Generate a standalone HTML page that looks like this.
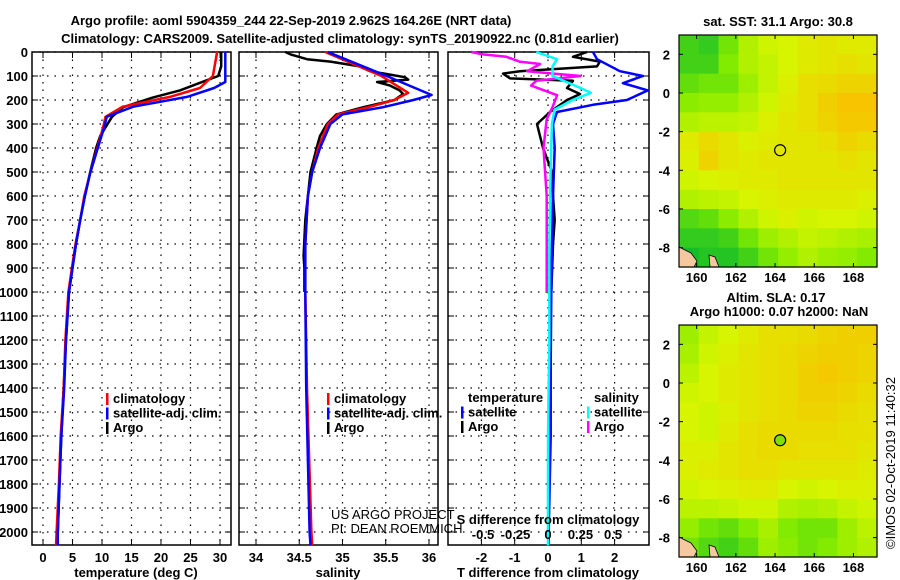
<!DOCTYPE html>
<html><head><meta charset="utf-8">
<style>
body{margin:0;background:#fff;}
svg{display:block;font-family:"Liberation Sans",Arial,sans-serif;}
.b{font-weight:bold;font-size:13px;}
.n{font-weight:normal;font-size:13px;}
</style></head>
<body>
<svg id="c" width="900" height="580" viewBox="0 0 900 580"></svg>
<script>
// ---- data ----
const depthTicks=[0,100,200,300,400,500,600,700,800,900,1000,1100,1200,1300,1400,1500,1600,1700,1800,1900,2000];
const tempTicks=[0,5,10,15,20,25,30];
const salTicks=[34,34.5,35,35.5,36];
const tdTicks=[-2,-1,0,1,2];
const sdTicks=[-0.5,-0.25,0,0.25,0.5];
const sdTickLabels=["-0.5","-0.25","0","0.25","0.5"];
const latTicks=[2,0,-2,-4,-6,-8];
const lonTicks=[160,162,164,166,168];

const tBlueD=[0,125,150,187,228,270,312,367,504,600,700,800,900,1000,1200,1400,1600,1800,2000,2055];
const tBlueV=[30.9,30.9,29.0,24.4,15.3,10.8,10.4,9.7,8.0,7.1,6.3,5.6,5.0,4.4,3.9,3.6,3.1,2.8,2.5,2.5];
const tRedD=[0,100,150,187,228,270,312,367,504,600,700,800,900,1000,1200,1400,1600,1800,2000,2055];
const tRedV=[29.5,28.8,26.6,21.5,13.5,10.6,10.2,9.6,8.0,7.0,6.3,5.5,4.9,4.3,3.8,3.5,3.0,2.7,2.3,2.2];
const tArgoD=[0,60,100,120,160,190,230,270,350,400,500,600,700,800,900,1000,1200,1400,1600,1800,2000];
const tArgoV=[30.2,30.2,29.7,27.5,23.2,18.6,13.6,11.7,9.7,9.0,8.0,7.1,6.3,5.6,5.0,4.4,3.9,3.5,3.1,2.8,2.5];

const sBlueD=[0,100,179,200,230,260,300,400,500,600,800,1000,1400,2000,2055];
const sBlueV=[34.83,35.51,36.03,35.82,35.47,35.0,34.86,34.74,34.65,34.6,34.57,34.57,34.58,34.62,34.63];
const sRedD=[0,100,170,200,230,260,300,400,500,600,800,1000,1400,2000,2055];
const sRedV=[34.8,35.45,35.76,35.6,35.3,34.95,34.83,34.72,34.65,34.6,34.57,34.57,34.59,34.64,34.65];
const sArgoD=[0,10,30,40,60,80,105,115,125,140,160,175,200,230,260,300,350,400,500,700,850,900,1000];
const sArgoV=[34.34,34.4,34.59,34.86,35.2,35.32,35.72,35.76,35.4,35.55,35.66,35.7,35.6,35.24,34.93,34.82,34.74,34.7,34.63,34.57,34.55,34.56,34.56];

const dtSatD=[0,30,80,100,130,160,200,220,250,300,400,600,800,1000,1300,1600,1800,2000,2055];
const dtSatV=[1.35,1.47,2.16,2.85,2.25,3.0,2.37,1.35,0.27,0.15,0.2,0.15,0.12,0.1,0.08,0.08,0.05,0.02,0.02];
const dtArgoD=[0,20,40,60,80,90,110,120,150,175,200,250,300,350,400,500,600,700,800,1000];
const dtArgoV=[1.17,0.75,1.56,1.47,-0.84,-1.35,-1.14,0.75,0.57,0.96,0.57,0.06,-0.33,-0.24,-0.15,0.12,0.15,0.2,0.15,0.1];
const dsSatD=[0,30,60,100,150,170,200,240,300,500,800,1200,1600,2000,2055];
const dsSatV=[-0.09,0.07,0.035,0.035,0.25,0.33,0.19,0.05,0.03,0.02,0.01,0.01,0.0,0.0,0.0];
const dsArgoD=[0,10,20,40,50,80,100,120,140,180,230,280,400,600,800,1000];
const dsArgoV=[-0.59,-0.5,-0.32,-0.22,-0.06,-0.16,0.25,-0.09,-0.13,0.07,0.035,-0.01,-0.035,-0.01,-0.01,-0.01];

const sstGrid=[
[0.3,0.2,0.6,1.2,1.5,1.6,1.8,1.9,1.8,1.8],
[0.3,0.3,0.7,1.2,1.4,1.6,1.8,1.9,2.0,1.9],
[0.5,0.6,0.6,1.0,1.4,1.7,2.0,2.1,2.2,2.2],
[0.8,0.9,0.9,1.2,1.5,1.8,2.0,2.3,2.5,2.5],
[1.2,1.3,1.3,1.4,1.7,1.9,2.0,2.2,2.4,2.4],
[1.8,2.1,1.9,1.7,1.8,1.9,1.9,2.0,2.2,2.1],
[1.7,2.2,1.9,1.8,1.9,1.9,1.9,1.9,2.0,1.9],
[1.5,1.6,1.7,1.8,1.8,1.9,1.9,1.9,1.9,1.9],
[1.2,1.3,1.4,1.6,1.7,1.8,1.8,1.8,1.8,1.7],
[0.4,0.5,0.8,1.2,1.5,1.7,1.5,1.6,1.6,1.5],
[0.2,0.2,0.3,0.6,1.0,1.2,1.4,1.3,1.2,1.1],
[0.0,0.1,0.1,0.3,0.6,0.9,1.2,1.0,0.9,0.7]];
const slaGrid=[
[1.0,1.4,1.6,1.8,2.0,2.0,2.1,2.2,2.3,2.3],
[1.1,1.5,1.7,1.9,2.0,2.1,2.2,2.3,2.3,2.2],
[1.3,1.6,1.8,1.9,2.0,2.1,2.3,2.4,2.3,2.2],
[1.5,1.6,1.8,1.9,2.0,2.1,2.3,2.3,2.2,2.1],
[1.6,1.5,1.7,1.9,2.0,2.1,2.2,2.2,2.1,2.0],
[1.6,1.5,1.8,2.0,2.1,2.1,2.1,2.1,2.0,2.0],
[1.7,1.7,1.9,2.0,2.1,2.1,2.0,2.0,2.0,1.9],
[1.7,1.8,1.9,2.0,2.0,1.9,1.9,1.9,1.9,1.8],
[1.5,1.6,1.7,1.8,1.8,1.6,1.5,1.6,1.7,1.7],
[1.3,1.3,1.4,1.5,1.5,1.2,1.1,1.2,1.4,1.5],
[0.9,0.6,0.5,0.7,1.1,0.7,0.6,0.6,1.0,1.3],
[0.6,0.4,0.3,0.5,1.0,0.8,0.6,0.7,1.0,1.2]];
const floatLon=164.26, floatLat=-2.962;

// ---- helpers ----
const NS="http://www.w3.org/2000/svg";
const svg=document.getElementById('c');
function mk(tag,attrs,parent){const e=document.createElementNS(NS,tag);for(const k in attrs)e.setAttribute(k,attrs[k]);(parent||svg).appendChild(e);return e;}
function txt(s,x,y,anchor,cls,parent){const e=mk('text',{x:x,y:y,'text-anchor':anchor||'middle','class':cls||'b'},parent);e.textContent=s;return e;}

const TOP=52,BOT=545;
const yD=d=>TOP+0.24*d;
const panels=[
 {x0:32,x1:231,f:v=>43+5.9*v,ticks:tempTicks,name:'temperature-panel'},
 {x0:239,x1:438,f:v=>256+86.5*(v-34),ticks:salTicks,name:'salinity-panel'},
 {x0:448,x1:649,f:v=>548+33.3*v,ticks:tdTicks,name:'difference-panel'}];
const sdX=v=>548+130*v;

// titles
let t=txt('Argo profile: aoml 5904359_244 22-Sep-2019 2.962S 164.26E (NRT data)',291,25,'middle','b');
t.setAttribute('font-size','14');
t=txt('Climatology: CARS2009. Satellite-adjusted climatology: synTS_20190922.nc (0.81d earlier)',340,43,'middle','b');
t.setAttribute('font-size','14');

panels.forEach((p,pi)=>{
  const g=mk('g',{});
  
  
  depthTicks.forEach(d=>{
    const y=yD(d);
    const l=mk('line',{x1:p.x0,x2:p.x1,y1:y,y2:y,stroke:'#000','stroke-width':1.2,'stroke-dasharray':'1.5 6'},g);
    
    mk('line',{x1:p.x0,x2:p.x0+6,y1:y,y2:y,stroke:'#000','stroke-width':1},g);
    mk('line',{x1:p.x1-6,x2:p.x1,y1:y,y2:y,stroke:'#000','stroke-width':1},g);
    if(pi===0){const e=txt(String(d),28,y+5,'end','b',g);}
  });
  p.ticks.forEach(v=>{
    const x=p.f(v);
    mk('line',{x1:x,x2:x,y1:TOP,y2:BOT,stroke:'#000','stroke-width':1.2,'stroke-dasharray':'1.5 6'},g);
    mk('line',{x1:x,x2:x,y1:BOT-6,y2:BOT,stroke:'#000'},g);
    mk('line',{x1:x,x2:x,y1:TOP,y2:TOP+6,stroke:'#000'},g);
    const e=txt(String(v),x,562,'middle','b',g);
  });
  const r=mk('rect',{x:p.x0,y:TOP,width:p.x1-p.x0,height:BOT-TOP,fill:'none',stroke:'#000','stroke-width':1.5},g);
  
});
[['temperature (deg C)',136],['salinity',338],['T difference from climatology',548]].forEach(a=>{
  const e=txt(a[0],a[1],577,'middle','b');
  
  
});

function series(D,V,fx,color,name){
  const pts=D.map((d,i)=>fx(V[i]).toFixed(1)+','+yD(d).toFixed(1)).join(' ');
  const e=mk('polyline',{points:pts,fill:'none',stroke:color,'stroke-width':2.5,'stroke-linejoin':'round'});
  
  
}
const fT=panels[0].f,fS=panels[1].f,fDT=panels[2].f;
series(tArgoD,tArgoV,fT,'#000','temp-argo-line');
series(tRedD,tRedV,fT,'#f00','temp-climatology-line');
series(tBlueD,tBlueV,fT,'#00f','temp-satellite-line');
series(sArgoD,sArgoV,fS,'#000','sal-argo-line');
series(sRedD,sRedV,fS,'#f00','sal-climatology-line');
series(sBlueD,sBlueV,fS,'#00f','sal-satellite-line');
series(dtArgoD,dtArgoV,fDT,'#000','tdiff-argo-line');
series(dsArgoD,dsArgoV,sdX,'#f0f','sdiff-argo-line');
series(dtSatD,dtSatV,fDT,'#00f','tdiff-satellite-line');
series(dsSatD,dsSatV,sdX,'#0ff','sdiff-satellite-line');

// legends
function legend(items,x,y0){
  items.forEach((it,i)=>{
    const y=y0+i*14.5;
    if(it[1]){const m=mk('rect',{x:x-7,y:y-10,width:2.5,height:12,fill:it[1]});}
    const e=txt(it[0],x,y,'start','b');
    
    
  });
}
legend([['climatology','#f00'],['satellite-adj. clim.','#00f'],['Argo','#000']],113,403);
legend([['climatology','#f00'],['satellite-adj. clim.','#00f'],['Argo','#000']],334,403);
legend([['temperature',null],['satellite','#00f'],['Argo','#000']],468,402);
legend([['salinity',null],['satellite','#0ff'],['Argo','#f0f']],594,402);

let e=txt('US ARGO PROJECT',331,519,'start','n');
e=txt('PI: DEAN ROEMMICH',331,533,'start','n');
e=txt('S difference from climatology',548,524,'middle','b');
sdTicks.forEach((v,i)=>{const e=txt(sdTickLabels[i],sdX(v),539,'middle','b');});

// maps
function col(v){
  const pos=[0,0.7,1.6,2.7];
  const stops=[[20,190,40],[130,235,0],[215,245,0],[255,185,0]];
  let i=0;while(i<2&&v>pos[i+1])i++;
  let f=(v-pos[i])/(pos[i+1]-pos[i]);f=Math.max(0,Math.min(1,f));
  const c=stops[i].map((s,k)=>Math.round(s+(stops[i+1][k]-s)*f));
  return 'rgb('+c.join(',')+')';
}
function map(grid,y0,name,circleFill){
  const x0=679,x1=877,y1=y0+232;
  const lonX=l=>x0+(l-159.1)*19.6;
  const latY=l=>y0+(3-l)*19.33;
  const g=mk('g',{});
  
  
  const rows=grid.length,cols=grid[0].length;
  grid.forEach((row,r)=>row.forEach((v,c)=>{
    const cx=x0+c*(x1-x0)/cols, cy=y0+r*(y1-y0)/rows;
    const cell=mk('rect',{x:cx.toFixed(1),y:cy.toFixed(1),width:((x1-x0)/cols+0.6).toFixed(1),height:((y1-y0)/rows+0.6).toFixed(1),fill:col(v)},g);
    
  }));
  // land
  mk('path',{d:`M${x0} ${y1-20} L${x0+12} ${y1-14} L${x0+18} ${y1-6} L${x0+15} ${y1} L${x0} ${y1} Z`,fill:'#f5c8a0',stroke:'#000','stroke-width':0.8},g);
  mk('path',{d:`M${x0+30} ${y1-12} L${x0+36} ${y1-10} L${x0+40} ${y1} L${x0+31} ${y1} Z`,fill:'#f5c8a0',stroke:'#000','stroke-width':0.8},g);
  latTicks.forEach(l=>{const y=latY(l);
    mk('line',{x1:x0,x2:x0+4,y1:y,y2:y,stroke:'#000'},g);mk('line',{x1:x1-4,x2:x1,y1:y,y2:y,stroke:'#000'},g);
    const e=txt(String(l),670,y+5,'end','b',g);});
  lonTicks.forEach(l=>{const x=lonX(l);
    mk('line',{x1:x,x2:x,y1:y1-4,y2:y1,stroke:'#000'},g);mk('line',{x1:x,x2:x,y1:y0,y2:y0+4,stroke:'#000'},g);
    const e=txt(String(l),x,y1+15,'middle','b',g);});
  mk('rect',{x:x0,y:y0,width:x1-x0,height:y1-y0,fill:'none',stroke:'#000','stroke-width':1.2},g);
  const c=mk('circle',{cx:lonX(floatLon),cy:latY(floatLat),r:5.5,fill:circleFill,stroke:'#000','stroke-width':1.2},g);
  
}
map(sstGrid,35,'sst-map','none');
map(slaGrid,325,'sla-map','#80e000');
e=txt('sat. SST: 31.1 Argo: 30.8',778,26,'middle','b');
e=txt('Altim. SLA: 0.17',776,302,'middle','b');
e=txt('Argo h1000: 0.07 h2000: NaN',779,316,'middle','b');
e=txt('©IMOS 02-Oct-2019 11:40:32',0,0,'middle','n');
e.setAttribute('transform','translate(895,463) rotate(-90)');

</script>
</body></html>
